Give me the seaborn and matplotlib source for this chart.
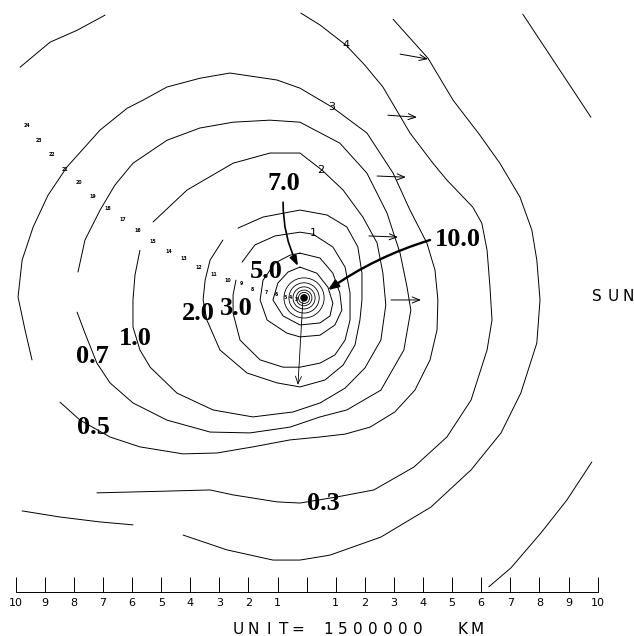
import matplotlib
matplotlib.use("Agg")
import matplotlib.pyplot as plt
import pandas as pd
import seaborn as sns
from matplotlib.patches import Circle

# Isophote traces of the coma, in scale units (1 unit = 1,500,000 km),
# nucleus at the origin, sun towards +u.
level_0_3 = [(-0.20, 9.76), (0.46, 9.35), (1.35, 8.66), (2.00, 7.97), (2.62, 7.22),
             (3.55, 5.64), (4.34, 4.60), (4.82, 4.02), (5.71, 3.09), (6.02, 2.54),
             (6.20, 1.61), (6.30, 0.34), (6.37, -0.79), (6.20, -1.82), (5.65, -3.54),
             (4.82, -4.81), (3.69, -5.84), (2.31, -6.63), (1.04, -6.87), (-0.23, -7.08),
             (-1.02, -7.04), (-2.53, -6.80), (-3.32, -6.63), (-4.80, -6.67), (-7.21, -6.73)]
level_0_5 = [(-8.48, -3.61), (-7.79, -4.23), (-6.76, -4.81), (-5.73, -5.15), (-4.25, -5.39),
             (-3.08, -5.36), (-1.85, -5.15), (-0.57, -4.91), (0.46, -4.81), (1.32, -4.71),
             (2.18, -4.47), (3.03, -3.95), (3.72, -3.20), (4.24, -2.16), (4.48, -1.13),
             (4.51, -0.10), (4.41, 0.93), (4.13, 1.86), (3.55, 2.99), (2.97, 4.26),
             (2.07, 5.64), (0.87, 6.53), (-0.23, 7.18), (-1.02, 7.46), (-2.64, 7.70),
             (-3.67, 7.52), (-4.80, 7.22), (-5.62, 6.77), (-6.17, 6.49), (-7.10, 5.74),
             (-8.24, 4.47), (-8.89, 3.50), (-9.40, 2.41), (-9.78, 1.27), (-9.92, 0.00),
             (-9.68, -1.13), (-9.44, -2.16)]
level_0_7 = [(-7.89, -0.52), (-7.62, -1.24), (-7.21, -2.27), (-6.76, -2.95), (-5.97, -3.64),
             (-4.80, -4.23), (-3.32, -4.64), (-1.95, -4.67), (-0.57, -4.47), (0.46, -4.12),
             (1.38, -3.88), (2.55, -3.20), (3.34, -1.82), (3.58, -0.45), (3.45, 0.34),
             (3.21, 1.51), (2.76, 2.89), (2.07, 4.26), (1.14, 5.29), (-0.23, 6.01),
             (-1.26, 6.08), (-2.53, 6.01), (-3.67, 5.81), (-4.80, 5.39), (-5.97, 4.60),
             (-6.59, 3.85), (-7.10, 2.99), (-7.62, 1.96), (-7.86, 0.86)]
level_1_0 = [(-5.28, 2.58), (-4.11, 3.68), (-2.53, 4.60), (-1.26, 4.95), (-0.23, 4.95),
             (0.53, 4.36), (1.25, 3.68), (1.93, 2.75), (2.42, 1.86), (2.62, 0.82),
             (2.72, -0.27), (2.55, -1.48), (2.00, -2.44), (1.32, -3.13), (0.46, -3.64),
             (-0.47, -3.95), (-1.85, -4.12), (-3.22, -3.88), (-4.46, -3.30), (-5.38, -2.41),
             (-5.73, -1.82), (-5.97, -1.03), (-5.97, -0.10), (-5.90, 0.76), (-5.73, 1.61)]
level_2_0 = [(-2.36, 2.37), (-1.50, 2.75), (-0.23, 2.99), (0.70, 2.82), (1.38, 2.41),
             (1.76, 1.72), (1.90, 0.82), (1.90, -0.10), (1.83, -0.79), (1.66, -1.65),
             (1.25, -2.34), (0.63, -2.85), (-0.23, -3.09), (-1.02, -2.95), (-2.05, -2.61),
             (-2.98, -1.82), (-3.43, -0.79), (-3.56, -0.10), (-3.49, 0.58), (-3.32, 1.27),
             (-2.88, 1.96)]
level_3_0 = [(-2.22, 1.20), (-1.78, 1.79), (-1.09, 2.10), (-0.23, 2.23), (0.22, 2.16),
             (0.90, 1.72), (1.32, 1.03), (1.49, 0.14), (1.49, -0.79), (1.32, -1.48),
             (0.97, -1.99), (0.46, -2.27), (-0.23, -2.41), (-0.81, -2.41), (-1.60, -2.16),
             (-2.29, -1.48), (-2.53, -0.55), (-2.53, 0.07), (-2.43, 0.58)]
level_5_0 = [(-0.23, 1.51), (0.46, 1.34), (0.90, 0.82), (1.14, 0.14), (1.21, -0.45),
             (0.97, -0.96), (0.46, -1.31), (-0.23, -1.37), (-0.68, -1.24), (-1.36, -0.79),
             (-1.60, -0.10), (-1.50, 0.58), (-1.09, 1.17), (-0.57, 1.44), (-0.23, 1.51)]
level_7_0 = [(-0.23, 1.03), (0.35, 0.82), (0.73, 0.34), (0.90, -0.21), (0.80, -0.65),
             (0.46, -0.89), (-0.23, -0.96), (-0.81, -0.65), (-1.16, -0.10), (-0.99, 0.48),
             (-0.64, 0.86), (-0.23, 1.03)]
outer_main = [(2.97, 9.55), (3.55, 8.90), (4.17, 8.21), (5.03, 6.77), (5.95, 5.57),
              (6.64, 4.60), (7.33, 3.44), (7.74, 2.30), (7.91, 1.27), (8.02, -0.10),
              (7.91, -1.58), (7.36, -3.30), (6.68, -4.67), (5.65, -5.94), (4.27, -7.22),
              (2.55, -8.25), (0.80, -8.87), (-0.23, -9.04), (-1.16, -9.04), (-2.74, -8.69),
              (-4.25, -8.18)]
outer_left = [(-9.78, -7.35), (-8.48, -7.56), (-7.10, -7.73), (-5.97, -7.83)]
outer_far = [(7.43, 9.72), (8.70, 7.80), (9.77, 6.18)]
outer_topleft = [(-9.85, 7.90), (-8.82, 8.76), (-7.89, 9.17), (-6.93, 9.69)]
outer_bottomright = [(9.80, -5.67), (8.94, -6.98), (8.05, -8.11), (7.02, -9.31), (6.26, -9.96)]

# innermost isophotes around the nucleus
core_center = (-0.09, -0.03)
core_radii = [0.69, 0.52, 0.38, 0.27, 0.19]

# brightness labels
level_text = ["7.0", "10.0", "5.0", "3.0", "2.0", "1.0", "0.7", "0.5", "0.3"]
level_text_u = [-0.78, 5.20, -1.40, -2.43, -3.73, -5.90, -7.38, -7.34, 0.56]
level_text_v = [3.92, 1.99, 0.89, -0.38, -0.58, -1.41, -2.03, -4.47, -7.08]

# numbered positions along the dust trail
trail_text = [str(n) for n in range(24, 2, -1)]
trail_u = [-9.61, -9.20, -8.75, -8.30, -7.82, -7.34, -6.83, -6.31, -5.80, -5.28, -4.73,
           -4.22, -3.70, -3.19, -2.70, -2.26, -1.85, -1.40, -1.05, -0.75, -0.54, -0.37]
trail_v = [5.91, 5.39, 4.91, 4.40, 3.95, 3.47, 3.06, 2.68, 2.30, 1.92, 1.58,
           1.31, 1.03, 0.79, 0.58, 0.45, 0.27, 0.17, 0.10, 0.00, -0.03, -0.07]

# distance marks on the sunward side
mark_text = ["4", "3", "2", "1"]
mark_u = [1.35, 0.87, 0.49, 0.22]
mark_v = [8.66, 6.53, 4.36, 2.20]

# solar wind arrows
wind_tail_u = [3.21, 2.79, 2.42, 2.14, 2.90]
wind_tail_v = [8.35, 6.25, 4.16, 2.10, -0.10]
wind_head_u = [4.17, 3.79, 3.41, 3.14, 3.93]
wind_head_v = [8.18, 6.18, 4.12, 2.06, -0.10]

# scale bar
ruler_ticks = list(range(-10, 11))
ruler_labels = [str(abs(t)) if t != 0 else "" for t in ruler_ticks]
unit_text = "UNIT= 1500000  KM"
sun_text = "SUN"

sns.set_theme(style="white")
plt.rcParams["font.family"] = ["DejaVu Sans"]
plt.rcParams["text.color"] = "black"

fig = plt.figure(figsize=(6.34, 6.36), dpi=100)
ax = fig.add_axes([0, 0, 1, 1])
ax.set_xlim(-10.54, 11.25)
ax.set_ylim(-11.65, 10.21)
ax.axis("off")

traces = {
    "0.3": level_0_3, "0.5": level_0_5, "0.7": level_0_7, "1.0": level_1_0,
    "2.0": level_2_0, "3.0": level_3_0, "5.0": level_5_0, "7.0": level_7_0,
    "outer": outer_main, "outer_left": outer_left, "outer_far": outer_far,
    "outer_topleft": outer_topleft, "outer_bottomright": outer_bottomright,
}
rows = []
for name, pts in traces.items():
    for i, (u, v) in enumerate(pts):
        rows.append((name, i, u, v))
df = pd.DataFrame(rows, columns=["trace", "order", "u", "v"])
sns.lineplot(data=df, x="u", y="v", units="trace", estimator=None, sort=False,
             color="black", linewidth=0.7, legend=False, ax=ax)

for r in core_radii:
    ax.add_patch(Circle(core_center, r, fill=False, lw=0.6, ec="black"))
ax.add_patch(Circle(core_center, 0.13, color="black", lw=0))

# trail markers
for t, u, v in zip(trail_text, trail_u, trail_v):
    ax.text(u, v, t, fontsize=3.4, fontweight="bold", color="black",
            ha="center", va="center")

# level labels
for t, u, v in zip(level_text, level_text_u, level_text_v):
    ax.text(u, v, t, fontsize=19, fontweight="bold", family="Liberation Serif",
            color="black", ha="center", va="center")

for t, u, v in zip(mark_text, mark_u, mark_v):
    ax.text(u, v, t, fontsize=8, color="black", ha="center", va="center")

# solar wind arrows
for x0, y0, x1, y1 in zip(wind_tail_u, wind_tail_v, wind_head_u, wind_head_v):
    ax.annotate("", xy=(x1, y1), xytext=(x0, y0),
                arrowprops=dict(arrowstyle="->,head_length=0.45,head_width=0.18",
                                lw=0.7, color="black", shrinkA=0, shrinkB=0))

# pointer arrows
ax.annotate("", xy=(-0.30, 1.07), xytext=(-0.81, 3.26),
            arrowprops=dict(arrowstyle="-|>,head_length=0.5,head_width=0.18", lw=1.2,
                            color="black", shrinkA=0, shrinkB=0,
                            connectionstyle="arc3,rad=0.12"))
ax.annotate("", xy=(0.73, 0.24), xytext=(4.24, 1.96),
            arrowprops=dict(arrowstyle="-|>,head_length=0.5,head_width=0.2", lw=1.7,
                            color="black", shrinkA=0, shrinkB=0,
                            connectionstyle="arc3,rad=0.08"))
ax.annotate("", xy=(-0.30, -3.02), xytext=(-0.13, -0.10),
            arrowprops=dict(arrowstyle="->,head_length=0.45,head_width=0.18", lw=0.6,
                            color="black", shrinkA=0, shrinkB=0))

# scale bar
base = -10.14
ax.plot([ruler_ticks[0], ruler_ticks[-1]], [base, base], color="black", lw=0.7)
ax.vlines(ruler_ticks, base, base + 0.52, color="black", lw=0.7)
for t, lab in zip(ruler_ticks, ruler_labels):
    ax.text(t, base - 0.36, lab, fontsize=8, color="black", ha="center", va="center")

pitch = 0.512
for i, ch in enumerate(unit_text):
    ax.text(-2.34 + i * pitch, -11.41, ch, fontsize=11, color="black",
            ha="center", va="center")
for i, ch in enumerate(sun_text):
    ax.text(9.99 + i * 0.53, 0.03, ch, fontsize=11, color="black",
            ha="center", va="center")

fig.savefig("out.png", dpi=100, facecolor="white")
